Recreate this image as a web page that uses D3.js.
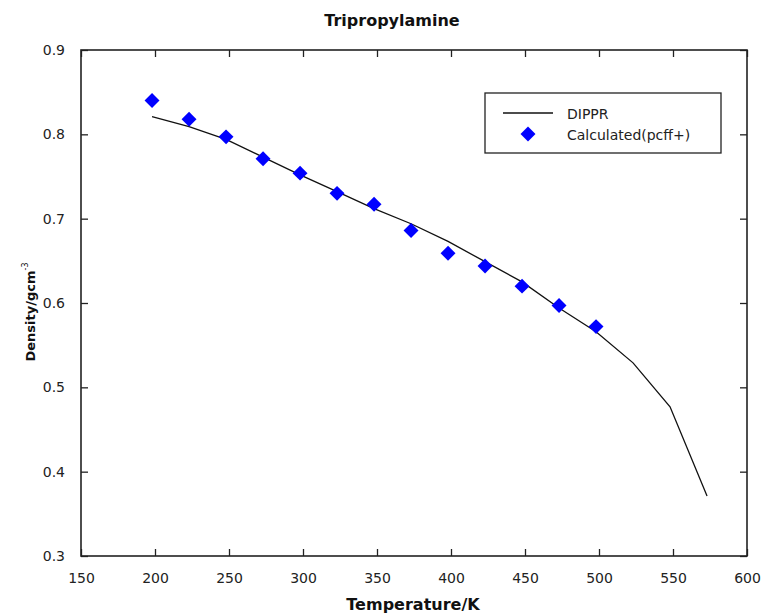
<!DOCTYPE html>
<html>
<head>
<meta charset="utf-8">
<script src="https://cdn.jsdelivr.net/npm/d3@7/dist/d3.min.js"></script>
<style>
  html, body { margin: 0; padding: 0; background: #fff; }
  svg { display: block; font-family: "DejaVu Sans", Verdana, sans-serif; }
</style>
</head>
<body>
<svg id="chart" width="769" height="616"></svg>
<script>
// DIPPR correlation (solid line)
const dipprT = [198, 223, 248, 273, 298, 323, 348, 373, 398, 423, 448, 473, 498, 523, 548, 573];
const dipprRho = [0.821, 0.809, 0.794, 0.773, 0.752, 0.732, 0.712, 0.694, 0.673, 0.649, 0.625, 0.594, 0.566, 0.529, 0.477, 0.371];

// Simulated densities (pcff+ force field)
const calcT = [198, 223, 248, 273, 298, 323, 348, 373, 398, 423, 448, 473, 498];
const calcRho = [0.840, 0.818, 0.797, 0.771, 0.754, 0.730, 0.717, 0.686, 0.659, 0.644, 0.620, 0.597, 0.572];

const xTicks = [150, 200, 250, 300, 350, 400, 450, 500, 550, 600];
const yTicks = [0.3, 0.4, 0.5, 0.6, 0.7, 0.8, 0.9];

const svg = d3.select("#chart");
const plotLeft = 81, plotRight = 747, plotTop = 50, plotBottom = 556;

const x = d3.scaleLinear().domain([150, 600]).range([plotLeft, plotRight]);
const y = d3.scaleLinear().domain([0.3, 0.9]).range([plotBottom, plotTop]);

const axisColor = "#222";
const tickLen = 7;

// Bottom axis with inward ticks
const gx = svg.append("g").attr("transform", `translate(0,${plotBottom})`)
  .call(d3.axisBottom(x).tickValues(xTicks).tickFormat(d3.format("d"))
    .tickSizeInner(-tickLen).tickSizeOuter(0).tickPadding(17));
// Left axis with inward ticks
const gy = svg.append("g").attr("transform", `translate(${plotLeft},0)`)
  .call(d3.axisLeft(y).tickValues(yTicks).tickFormat(d3.format(".1f"))
    .tickSizeInner(-tickLen).tickSizeOuter(0).tickPadding(16));
// Top and right mirrored ticks, no labels
const gt = svg.append("g").attr("transform", `translate(0,${plotTop})`)
  .call(d3.axisTop(x).tickValues(xTicks).tickFormat("")
    .tickSizeInner(-tickLen).tickSizeOuter(0));
const gr = svg.append("g").attr("transform", `translate(${plotRight},0)`)
  .call(d3.axisRight(y).tickValues(yTicks).tickFormat("")
    .tickSizeInner(-tickLen).tickSizeOuter(0));

[gx, gy, gt, gr].forEach(g => {
  g.select(".domain").remove();
  g.selectAll(".tick line").attr("stroke", axisColor).attr("stroke-width", 1.3);
  g.selectAll(".tick text").attr("fill", "#222").attr("font-size", 14)
    .attr("font-family", "DejaVu Sans, Verdana, sans-serif");
});

// Plot frame
svg.append("rect")
  .attr("x", plotLeft).attr("y", plotTop)
  .attr("width", plotRight - plotLeft).attr("height", plotBottom - plotTop)
  .attr("fill", "none").attr("stroke", axisColor).attr("stroke-width", 1.6);

// DIPPR line
const line = d3.line().x((d, i) => x(dipprT[i])).y(d => y(d));
svg.append("path")
  .datum(dipprRho)
  .attr("d", line)
  .attr("fill", "none")
  .attr("stroke", "#111")
  .attr("stroke-width", 1.3);

// Calculated points as diamonds
const diamond = d3.symbol().type(d3.symbolSquare).size(112);
svg.append("g").selectAll("path")
  .data(calcRho)
  .join("path")
  .attr("d", diamond)
  .attr("transform", (d, i) => `translate(${x(calcT[i])},${y(d)}) rotate(45)`)
  .attr("fill", "#0000ff");

// Title
svg.append("text")
  .attr("x", 392).attr("y", 26)
  .attr("text-anchor", "middle")
  .attr("font-size", 16).attr("font-weight", "bold")
  .attr("fill", "#111")
  .text("Tripropylamine");

// X axis title
svg.append("text")
  .attr("x", 413).attr("y", 610)
  .attr("text-anchor", "middle")
  .attr("font-size", 16).attr("font-weight", "bold")
  .attr("fill", "#111")
  .text("Temperature/K");

// Y axis title with superscript
const yl = svg.append("text")
  .attr("transform", "translate(35,312) rotate(-90)")
  .attr("text-anchor", "middle")
  .attr("font-size", 13).attr("font-weight", "bold")
  .attr("fill", "#111");
yl.append("tspan").text("Density/gcm");
yl.append("tspan").attr("dy", -7).attr("font-size", 8).attr("font-weight", "normal").text("-3");

// Legend
const legend = svg.append("g");
legend.append("rect")
  .attr("x", 485).attr("y", 93).attr("width", 236).attr("height", 60)
  .attr("fill", "#fff").attr("stroke", axisColor).attr("stroke-width", 1.3);
legend.append("line")
  .attr("x1", 503).attr("x2", 553).attr("y1", 113).attr("y2", 113)
  .attr("stroke", "#111").attr("stroke-width", 1.3);
legend.append("text")
  .attr("x", 567).attr("y", 119).attr("font-size", 14).attr("fill", "#222")
  .text("DIPPR");
legend.append("path")
  .attr("d", diamond)
  .attr("transform", "translate(528,134) rotate(45)")
  .attr("fill", "#0000ff");
legend.append("text")
  .attr("x", 567).attr("y", 140).attr("font-size", 14).attr("fill", "#222")
  .text("Calculated(pcff+)");
</script>
</body>
</html>
